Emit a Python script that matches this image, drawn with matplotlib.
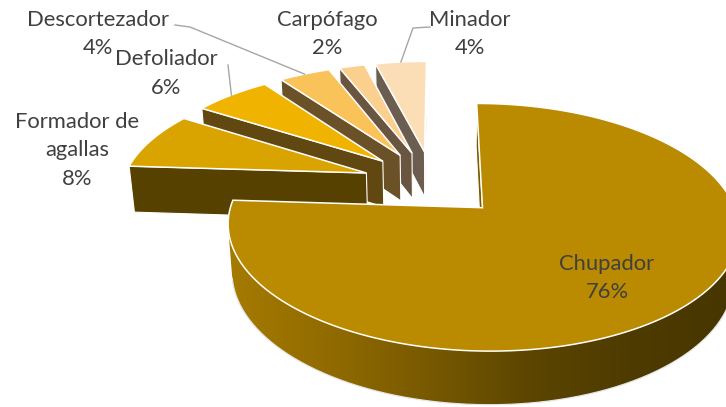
import numpy as np
import matplotlib.pyplot as plt
from matplotlib.patches import Polygon

# data
labels = ['Chupador', 'Formador de\nagallas', 'Defoliador', 'Descortezador', 'Carpófago', 'Minador']
values = [76, 8, 6, 4, 2, 4]
top_colors = ['#BA8A00', '#D9A300', '#F0B300', '#F9C35A', '#FBD08E', '#FBDDB6']
side_colors = ['#7A5B00', '#574100', '#604810', '#6A5128', '#6A5640', '#6B5E50']

# label placement (pixels: center x, first baseline) and leader line start points
label_pos = [(607, 270), (77, 128), (166, 65), (98, 26), (327, 26), (470, 26)]
line_step = 28.5
leader_from = [None, None, [(228, 65)], [(175, 25), (190, 27)], None, [(430, 27), (413, 28)]]

# 3d view parameters, fitted by eye
phi = np.radians(27.6)
su, cu = np.sin(phi), np.cos(phi)
dist = 5.79
scale = 244
cam_x = 0.03
x0, y0 = 440, 183
thick = 0.22
explode = 0.29
cam = np.array([cam_x, -dist * cu, dist * su])


def proj(X, Y, Z):
    depth = dist + Y * cu - Z * su
    sx = x0 + scale * dist * (X - cam_x) / depth
    sy = y0 - scale * dist * (Y * su + Z * cu) / depth
    return sx, sy


def visible(n, p):
    return np.dot(n, cam - p) > 0


# wall shading of the big slice (by screen x)
grad_x = [233, 330, 430, 530, 630, 730]
grad_c = np.array([(165, 122, 0), (145, 107, 0), (120, 89, 0), (92, 69, 0), (78, 59, 0), (72, 54, 0)]) / 255

fig = plt.figure(figsize=(7.26, 4.07), dpi=100)
ax = fig.add_axes([0, 0, 1, 1])
ax.set_xlim(0, 726)
ax.set_ylim(407, 0)
ax.axis('off')

frac = np.array(values) / sum(values)
starts = np.concatenate([[0], np.cumsum(frac)[:-1]]) * 2 * np.pi
ends = np.cumsum(frac) * 2 * np.pi

slices = []
for i in range(len(values)):
    t1, t2 = starts[i], ends[i]
    mid = 0.5 * (t1 + t2)
    ox, oy = explode * np.sin(mid), explode * np.cos(mid)
    depth_key = oy + 0.5 * np.cos(mid)
    slices.append((depth_key, i, t1, t2, ox, oy))

# draw farthest slice first
anchors = {}
for depth_key, i, t1, t2, ox, oy in sorted(slices, reverse=True):
    # radial faces
    for t, n in [(t1, (-np.cos(t1), np.sin(t1), 0)), (t2, (np.cos(t2), -np.sin(t2), 0))]:
        p = np.array([ox + 0.5 * np.sin(t), oy + 0.5 * np.cos(t), -thick / 2])
        if visible(np.array(n), p):
            pts = [proj(ox, oy, 0), proj(ox + np.sin(t), oy + np.cos(t), 0),
                   proj(ox + np.sin(t), oy + np.cos(t), -thick), proj(ox, oy, -thick)]
            ax.add_patch(Polygon(pts, closed=True, facecolor=side_colors[i],
                                 edgecolor='white', lw=0.8, zorder=2))
    # curved outer wall (front part only)
    tt = np.linspace(t1, t2, 400)
    vis = np.array([m for m in tt if visible(np.array([np.sin(m), np.cos(m), 0]),
                                             np.array([ox + np.sin(m), oy + np.cos(m), -thick / 2]))])
    if len(vis):
        ux, uy = proj(ox + np.sin(vis), oy + np.cos(vis), 0)
        bx, by = proj(ox + np.sin(vis), oy + np.cos(vis), -thick)
        wall = list(zip(ux, uy)) + list(zip(bx[::-1], by[::-1]))
        if i == 0:
            outline = Polygon(wall, closed=True, facecolor='none', edgecolor='none', zorder=2)
            ax.add_patch(outline)
            gx = np.linspace(0, 726, 727)
            grad = np.stack([np.interp(gx, grad_x, grad_c[:, k]) for k in range(3)], axis=-1)
            img = ax.imshow(grad[None, :, :], extent=(0, 726, 407, 0), aspect='auto',
                            interpolation='bilinear', zorder=2)
            img.set_clip_path(outline)
        else:
            ax.add_patch(Polygon(wall, closed=True, facecolor=side_colors[i],
                                 edgecolor='none', zorder=2))
        ax.plot(bx, by, color='#E6E6E6', lw=0.9, zorder=2)
        ax.plot([ux[0], bx[0]], [uy[0], by[0]], color='#E6E6E6', lw=0.9, zorder=2)
    # top face
    tx, ty = proj(ox + np.sin(tt), oy + np.cos(tt), 0)
    cx, cy = proj(ox, oy, 0)
    pts = [(cx, cy)] + list(zip(tx, ty))
    ax.add_patch(Polygon(pts, closed=True, facecolor=top_colors[i], edgecolor='white',
                         lw=1.1, joinstyle='miter', zorder=2))
    mid = 0.5 * (t1 + t2)
    anchors[i] = proj(ox + np.sin(mid), oy + np.cos(mid), 0)

# labels (one text per line) and leader lines
for i, lab in enumerate(labels):
    x, y = label_pos[i]
    lines = lab.split('\n') + [f'{values[i]}%']
    for k, line in enumerate(lines):
        ax.text(x, y + k * line_step, line, ha='center', va='baseline', fontsize=15.8,
                family='Lato', color='#404040', zorder=5)
    if leader_from[i]:
        lx = [p[0] for p in leader_from[i]] + [anchors[i][0]]
        ly = [p[1] for p in leader_from[i]] + [anchors[i][1]]
        ax.plot(lx, ly, color='#A6A6A6', lw=1, zorder=4)

fig.savefig('out.png', dpi=100)
